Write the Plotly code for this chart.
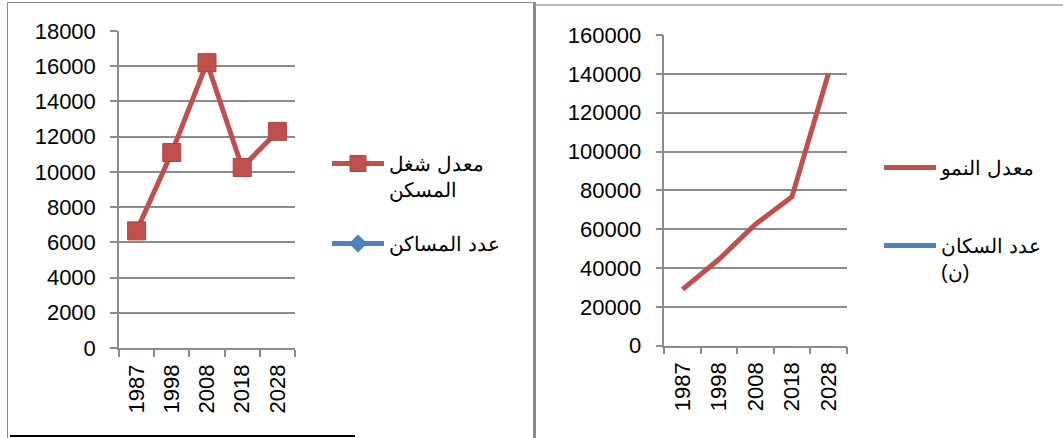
import plotly.graph_objects as go

W, H = 1063, 438

years = ["1987", "1998", "2008", "2018", "2028"]

# left chart
occupancy_rate = [6650, 11100, 16200, 10250, 12300]   # معدل شغل المسكن
dwellings_count = [None, None, None, None, None]       # عدد المساكن (not visible)

# right chart
growth_rate = [29000, 44500, 62600, 76700, 140200]     # معدل النمو
population = [None, None, None, None, None]            # عدد السكان (ن) (not visible)

left_y_ticks = [0, 2000, 4000, 6000, 8000, 10000, 12000, 14000, 16000, 18000]
right_y_ticks = [0, 20000, 40000, 60000, 80000, 100000, 120000, 140000, 160000]

RED = "#C0504D"
BLUE = "#4F81BD"
GRID = "#8C8C8C"
FONT = "Liberation Sans"


def px(x):
    return x / W


def py(y):
    return 1 - y / H


fig = go.Figure()

fig.add_trace(go.Scatter(
    x=years, y=occupancy_rate, name="معدل شغل<br>المسكن",
    mode="lines+markers", line=dict(color=RED, width=5),
    marker=dict(symbol="square", size=18, color=RED, line=dict(color="#B04542", width=1)),
    xaxis="x", yaxis="y", legend="legend", legendgroup="a"))
fig.add_trace(go.Scatter(
    x=years, y=dwellings_count, name="عدد المساكن",
    mode="lines+markers", line=dict(color=BLUE, width=5),
    marker=dict(symbol="diamond", size=14, color=BLUE),
    xaxis="x", yaxis="y", legend="legend", legendgroup="b"))

fig.add_trace(go.Scatter(
    x=years, y=growth_rate, name="معدل النمو",
    mode="lines", line=dict(color=RED, width=5),
    xaxis="x2", yaxis="y2", legend="legend2", legendgroup="c"))
fig.add_trace(go.Scatter(
    x=years, y=population, name="عدد السكان<br>(ن)",
    mode="lines", line=dict(color=BLUE, width=5),
    xaxis="x2", yaxis="y2", legend="legend2", legendgroup="d"))

axis_font = dict(family=FONT, size=22, color="#000000")
legend_font = dict(family=FONT, size=20, color="#000000")

common_x = dict(type="category", showgrid=False, showline=True, linecolor=GRID, linewidth=1.5,
                ticks="outside", tickson="boundaries", ticklen=7, tickcolor=GRID, tickwidth=1.5,
                tickangle=-90, tickfont=axis_font, zeroline=False, fixedrange=True,
                ticklabelstandoff=6, range=[-0.5, len(years) - 0.5], automargin=False)
common_y = dict(showgrid=True, gridcolor=GRID, gridwidth=1.5, showline=True, linecolor=GRID,
                linewidth=1.5, ticks="outside", ticklen=7, tickcolor=GRID, tickwidth=1.5,
                tickfont=axis_font, zeroline=False, fixedrange=True, ticklabelstandoff=10,
                automargin=False)

fig.update_layout(
    width=W, height=H, margin=dict(l=0, r=0, t=0, b=0, autoexpand=False),
    paper_bgcolor="white", plot_bgcolor="white",
    font=dict(family=FONT, size=22, color="#000000"),
    xaxis=dict(domain=[px(119), px(295)], anchor="y", **common_x),
    yaxis=dict(domain=[py(348), py(31)], anchor="x", range=[0, 18000],
               tickvals=left_y_ticks, ticktext=[str(v) for v in left_y_ticks], **common_y),
    xaxis2=dict(domain=[px(664.3), px(846.7)], anchor="y2", **common_x),
    yaxis2=dict(domain=[py(345.7), py(35)], anchor="x2", range=[0, 160000],
                tickvals=right_y_ticks, ticktext=[str(v) for v in right_y_ticks], **common_y),
    legend=dict(x=px(327), y=py(144), xanchor="left", yanchor="top", valign="top",
                bgcolor="rgba(0,0,0,0)", font=legend_font,
                traceorder="grouped", tracegroupgap=25, itemwidth=52),
    legend2=dict(x=px(879), y=py(148), xanchor="left", yanchor="top", valign="top",
                 bgcolor="rgba(0,0,0,0)", font=legend_font,
                 traceorder="grouped", tracegroupgap=49, itemwidth=52),
    shapes=[
        dict(type="line", xref="paper", yref="paper", x0=px(7.5), x1=px(7.5), y0=py(2), y1=0,
             line=dict(color="#8A8A8A", width=1)),
        dict(type="line", xref="paper", yref="paper", x0=px(7), x1=px(534), y0=py(2.5), y1=py(2.5),
             line=dict(color="#8A8A8A", width=1)),
        dict(type="line", xref="paper", yref="paper", x0=px(534.5), x1=px(534.5), y0=py(2), y1=0,
             line=dict(color="#8C8C8C", width=3)),
        dict(type="line", xref="paper", yref="paper", x0=px(536), x1=1, y0=py(5), y1=py(5),
             line=dict(color="#BDBDBD", width=2)),
        dict(type="line", xref="paper", yref="paper", x0=px(10), x1=px(355), y0=py(436), y1=py(436),
             line=dict(color="#000000", width=2)),
    ],
)

fig.write_html(
    "out.html",
    post_script="document.body.style.margin='0';document.body.style.overflow='hidden';",
)
